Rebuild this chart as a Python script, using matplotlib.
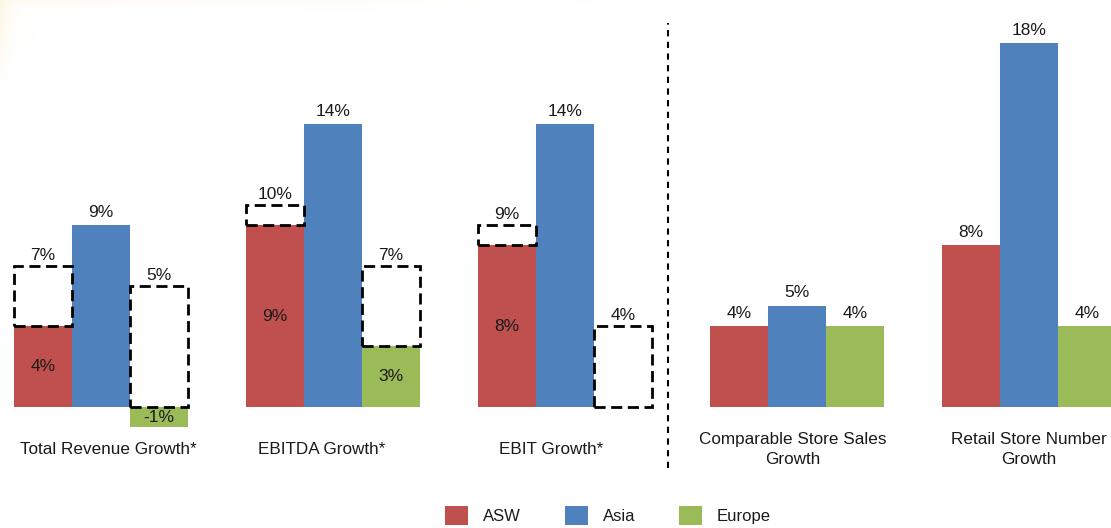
import numpy as np
import matplotlib.pyplot as plt
from matplotlib.patches import Patch

plt.rcParams['font.family'] = ['Liberation Sans', 'DejaVu Sans']

# data
categories = ['Total Revenue Growth*', 'EBITDA Growth*', 'EBIT Growth*',
              'Comparable Store Sales\nGrowth', 'Retail Store Number\nGrowth']
regions = ['ASW', 'Asia', 'Europe']
asw = [4, 9, 8, 4, 8]
asia = [9, 14, 14, 5, 18]
europe = [-1, 3, np.nan, 4, 4]

# dashed outline boxes (box top as drawn, label as printed)
asw_dashed = [7, 10, 9, np.nan, np.nan]
asw_dashed_lbl = ['7%', '10%', '9%', '', '']
asia_dashed = [np.nan] * 5
asia_dashed_lbl = [''] * 5
europe_dashed = [6, 7, 4, np.nan, np.nan]
europe_dashed_lbl = ['5%', '7%', '4%', '', '']

colors = ['#C0504D', '#4F81BD', '#9BBB59']
txt_col = '#1a1a1a'

W, H = 1111, 528
fig = plt.figure(figsize=(W / 100, H / 100), dpi=100)

# faint slide background in the top-left corner
bg = fig.add_axes([0, 0, 1, 1], zorder=-5)
yy, xx = np.mgrid[0:H, 0:W]
a = np.exp(-xx / 9.0) * np.clip(1 - yy / 95.0, 0, 1) * 0.35
a = np.maximum(a, np.exp(-yy / 4.0) * np.clip(1 - xx / 620.0, 0, 1) * 0.2)
img = np.zeros((H, W, 4))
img[..., 0], img[..., 1], img[..., 2] = 0.99, 0.9, 0.66
img[..., 3] = a
bg.imshow(img, aspect='auto', extent=(0, W, H, 0))
bg.axis('off')

ax = fig.add_axes([0, 0, 1, 1])
px_unit = 232.0   # pixels per group
px_pct = 20.2     # pixels per percent
x0, y0 = 101, 407
ax.set_xlim(-x0 / px_unit, (W - x0) / px_unit)
ax.set_ylim((y0 - H) / px_pct, y0 / px_pct)
ax.axis('off')

x = np.arange(len(categories))
w = 0.25
series = [(asw, asw_dashed, asw_dashed_lbl),
          (asia, asia_dashed, asia_dashed_lbl),
          (europe, europe_dashed, europe_dashed_lbl)]

for k, (vals, dashed, dlbl) in enumerate(series):
    xs = x + (k - 1) * w
    vals = np.array(vals, dtype=float)
    dashed = np.array(dashed, dtype=float)
    ax.bar(xs, np.nan_to_num(vals), width=w, color=colors[k], zorder=2)
    for xi, v, d, lbl in zip(xs, vals, dashed, dlbl):
        if not np.isnan(d):
            bottom = 0 if np.isnan(v) else max(v, 0)
            ax.bar(xi, d - bottom, bottom=bottom, width=w, fill=False,
                   edgecolor='black', linewidth=2, linestyle=(0, (4, 2)), zorder=3)
            ax.annotate(lbl, (xi, d), xytext=(0, 2), textcoords='offset points',
                        ha='center', va='bottom', fontsize=12.5, color=txt_col, zorder=4)
        if np.isnan(v):
            continue
        if not np.isnan(d):
            # value written inside the bar
            ax.text(xi, v / 2, '%d%%' % v, ha='center', va='center',
                    fontsize=12.5, color=txt_col, zorder=4)
        else:
            ax.annotate('%d%%' % v, (xi, v), xytext=(0, 4), textcoords='offset points',
                        ha='center', va='bottom', fontsize=12.5, color=txt_col, zorder=4)

# category names under the groups
nudge = [0.03, -0.05, -0.06, -0.02, 0.0]
for xi, name, n in zip(x, categories, nudge):
    ax.text(xi + n, -2.1, name, ha='center', va='center', fontsize=12.3,
            color=txt_col, linespacing=1.35)

# divider between financial and store metrics
ax.plot([2.444, 2.444], [-3.0, 19.0], color='black', linewidth=1.5,
        linestyle=(0, (3, 2.6)), zorder=1)

handles = [Patch(facecolor=c, edgecolor='none') for c in colors]
fig.legend(handles, regions, ncol=3, frameon=False, loc='lower left',
           bbox_to_anchor=(445 / W, 3 / H), fontsize=12, handlelength=1.4,
           handleheight=1.4, handletextpad=0.9, columnspacing=2.6,
           borderpad=0, borderaxespad=0, labelcolor=txt_col)

fig.savefig('out.png', dpi=100)
